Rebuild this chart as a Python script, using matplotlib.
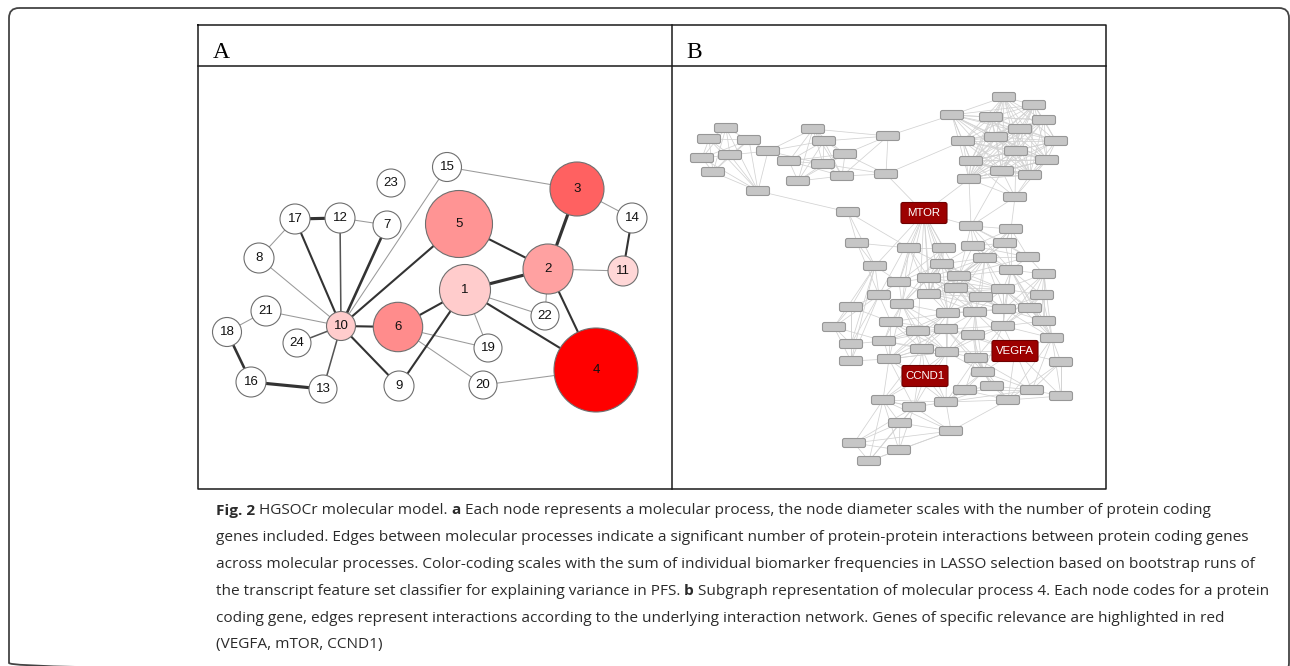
import itertools
import matplotlib
matplotlib.use("Agg")
import matplotlib.pyplot as plt
from matplotlib.patches import Circle, FancyBboxPatch
from matplotlib.colors import LinearSegmentedColormap

W, H = 1290, 666

# ---------------- panel A: molecular processes ----------------
proc_ids = list(range(1, 25))
proc_x = [267, 350, 379, 398, 261, 200, 189, 61, 201, 143, 425, 142,
          125, 434, 249, 53, 97, 29, 290, 285, 68, 347, 193, 99]
proc_y = [224, 203, 123, 304, 158, 261, 159, 192, 320, 260, 205, 152,
          323, 152, 101, 316, 153, 266, 282, 319, 245, 250, 117, 277]
# radius ~ number of protein coding genes
proc_r = [25.5, 25, 27, 42, 33.5, 24.7, 14, 15, 15, 14.5, 15, 15,
          14, 15, 14.5, 15, 15, 14.5, 14, 14, 15, 14, 14, 14]
# summed biomarker frequency (colour)
proc_freq = [0.20, 0.37, 0.62, 1.00, 0.42, 0.45, 0, 0, 0, 0.20, 0.16, 0,
             0, 0, 0, 0, 0, 0, 0, 0, 0, 0, 0, 0]
# (from, to, weight)
proc_edges = [(15, 3, 1), (15, 10, 1), (17, 12, 3), (12, 7, 1), (17, 8, 1),
              (17, 10, 2), (12, 10, 1.5), (7, 10, 2.5), (5, 10, 2), (8, 10, 1),
              (21, 10, 1), (24, 10, 1.5), (13, 10, 1.5), (10, 6, 2), (10, 9, 2),
              (21, 18, 1), (18, 16, 2.5), (16, 13, 3), (6, 1, 2), (6, 19, 1),
              (6, 20, 1), (9, 1, 2), (1, 2, 3), (1, 22, 1), (1, 19, 1),
              (1, 4, 2), (5, 2, 2), (2, 3, 3), (2, 11, 1), (2, 22, 1),
              (2, 4, 2), (3, 14, 1), (14, 11, 2), (20, 4, 1)]

# ---------------- panel B: subgraph of process 4 ----------------
gene_x = [54, 37, 77, 30, 58, 96, 41, 86, 141, 152, 117, 151, 173, 126, 170, 216, 214,
          332, 362, 280, 319, 372, 348, 324, 291, 384, 344, 299, 375, 330, 358, 297, 343,
          176, 252, 299, 339, 185, 237, 272, 301, 333, 203, 270, 313, 356, 339, 372,
          227, 257, 287, 284, 331, 207, 257, 309, 370, 179, 230, 276, 303, 332, 358,
          162, 219, 246, 274, 301, 331, 372, 179, 212, 250, 275, 380, 343, 179, 217,
          304, 389, 253, 311, 293, 320, 360, 389, 211, 242, 274, 336, 228, 279, 182,
          227, 197]
gene_y = [62, 73, 74, 92, 89, 85, 106, 125, 63, 75, 95, 98, 88, 115, 110, 70, 108,
          31, 39, 49, 51, 54, 63, 71, 75, 75, 85, 95, 94, 105, 109, 113, 131,
          146, 147, 160, 163, 177, 182, 182, 180, 177, 200, 198, 192, 191, 204, 208,
          216, 212, 210, 222, 223, 229, 228, 231, 229, 241, 238, 247, 246, 243, 242,
          261, 256, 265, 263, 269, 260, 255, 278, 275, 283, 286, 272, 285, 295, 293,
          292, 296, 310, 306, 324, 320, 324, 330, 334, 341, 336, 334, 357, 365, 377,
          384, 395]
gene_names = {34: "MTOR", 75: "VEGFA", 80: "CCND1"}

# densely connected groups of genes
gene_groups = [
    [0, 1, 2, 3, 4, 6],
    [8, 9, 10, 11, 12, 13, 14],
    list(range(17, 32)),
    [26, 27, 28, 29, 30, 31, 32],
    [42, 53, 57, 63, 70, 76],
    [38, 39, 43, 48, 49, 54, 58],
    [35, 36, 40, 41, 44, 45, 46, 50],
    [43, 44, 49, 50, 51, 52, 54, 55, 59, 60, 61],
    [46, 47, 52, 56, 61, 62, 68, 69, 74],
    [58, 59, 64, 65, 66, 71, 72, 73, 77],
    [60, 66, 67, 68, 73, 75, 78, 81],
    [72, 73, 77, 80, 86, 87, 88],
    [78, 81, 82, 83, 88, 89, 84],
    [74, 79, 84, 85, 89, 75],
    [86, 87, 90, 91, 92, 93, 94],
]
gene_edges = [(7, 0), (7, 1), (7, 2), (7, 3), (7, 4), (7, 5), (7, 6), (7, 33),
              (5, 2), (5, 4), (5, 8), (5, 9), (5, 10), (5, 11),
              (15, 8), (15, 9), (15, 12), (15, 14), (15, 19),
              (16, 11), (16, 12), (16, 14), (16, 15), (16, 24), (16, 34),
              (31, 34), (31, 35), (32, 35), (32, 36), (29, 35),
              (34, 38), (34, 39), (34, 42), (34, 43), (34, 48), (34, 49), (34, 53),
              (34, 54), (34, 58), (34, 59), (34, 65), (34, 50), (34, 51), (34, 35),
              (33, 37), (33, 42), (33, 38), (37, 42), (37, 53), (37, 38),
              (53, 64), (57, 64), (63, 71), (70, 71), (76, 77), (48, 53), (42, 48),
              (89, 91), (88, 91), (85, 79), (47, 45), (36, 41), (40, 43)]
for grp in gene_groups:
    gene_edges += list(itertools.combinations(grp, 2))

caption_lines = [
    [("Fig. 2", True), (" HGSOCr molecular model.", False), (" a", True),
     (" Each node represents a molecular process, the node diameter scales with the number of protein coding", False)],
    [("genes included. Edges between molecular processes indicate a significant number of protein-protein interactions between protein coding genes", False)],
    [("across molecular processes. Color-coding scales with the sum of individual biomarker frequencies in LASSO selection based on bootstrap runs of", False)],
    [("the transcript feature set classifier for explaining variance in PFS.", False), (" b", True),
     (" Subgraph representation of molecular process 4. Each node codes for a protein", False)],
    [("coding gene, edges represent interactions according to the underlying interaction network. Genes of specific relevance are highlighted in red", False)],
    [("(VEGFA, mTOR, CCND1)", False)],
]

# ---------------- figure ----------------
fig = plt.figure(figsize=(W / 100, H / 100), dpi=100)
bg = fig.add_axes([0, 0, 1, 1])
bg.set_xlim(0, W)
bg.set_ylim(H, 0)
bg.axis("off")

# outer rounded frame (bottom runs off the page)
bg.add_patch(FancyBboxPatch((9, 8), 1280, 665,
                            boxstyle="round,pad=0,rounding_size=10",
                            fc="none", ec="#444444", lw=1.3))
# table grid
lc = "#1a1a1a"
bg.plot([198, 1106, 1106, 198, 198], [25, 25, 489, 489, 25], color=lc, lw=1.1)
bg.plot([198, 1106], [66, 66], color=lc, lw=1.1)
bg.plot([672, 672], [25, 489], color=lc, lw=1.1)
bg.text(213, 57.5, "A", fontsize=17, family="Liberation Serif", va="baseline")
bg.text(686, 57.5, "B", fontsize=17, family="Liberation Serif", va="baseline")

# panel A
ax_a = fig.add_axes([198 / W, 1 - 489 / H, 474 / W, 423 / H])
ax_a.set_xlim(0, 474)
ax_a.set_ylim(423, 0)
ax_a.axis("off")
cmap = LinearSegmentedColormap.from_list("wr", ["#ffffff", "#ff0000"])
idx = {p: i for i, p in enumerate(proc_ids)}
for a, b, w in proc_edges:
    i, j = idx[a], idx[b]
    col = "#9a9a9a" if w < 1.5 else ("#555555" if w < 2 else "#333333")
    ax_a.plot([proc_x[i], proc_x[j]], [proc_y[i], proc_y[j]],
              color=col, lw=0.75 * w, zorder=1, solid_capstyle="butt")
for i, p in enumerate(proc_ids):
    ax_a.add_patch(Circle((proc_x[i], proc_y[i]), proc_r[i],
                          fc=cmap(proc_freq[i]), ec="#6f6f6f", lw=0.8, zorder=2))
    ax_a.text(proc_x[i], proc_y[i], str(p), ha="center", va="center",
              fontsize=9.5, family="Liberation Sans", color="#111111", zorder=3)

# panel B
ax_b = fig.add_axes([672 / W, 1 - 489 / H, 434 / W, 423 / H])
ax_b.set_xlim(0, 434)
ax_b.set_ylim(423, 0)
ax_b.axis("off")
for a, b in gene_edges:
    ax_b.plot([gene_x[a], gene_x[b]], [gene_y[a], gene_y[b]],
              color="#d2d2d2", lw=0.55, zorder=1)
for i in range(len(gene_x)):
    if i in gene_names:
        w, h, fc, ec = 46, 21, "#9c0000", "#6e0000"
    else:
        w, h, fc, ec = 23, 9, "#c6c6c6", "#979797"
    ax_b.add_patch(FancyBboxPatch((gene_x[i] - w / 2, gene_y[i] - h / 2), w, h,
                                  boxstyle="round,pad=0,rounding_size=2",
                                  fc=fc, ec=ec, lw=0.8, zorder=2))
    if i in gene_names:
        ax_b.text(gene_x[i], gene_y[i], gene_names[i], ha="center", va="center",
                  fontsize=8.2, family="Liberation Sans", color="white", zorder=3)

# caption, sized so the widest line spans the text block
renderer = fig.canvas.get_renderer()
cap_kw = dict(family="Open Sans", color="#2b2b2b", va="baseline", ha="left")


def line_width(line, size):
    tot = 0
    for txt, bold in line:
        t = bg.text(0, 0, txt, fontsize=size,
                    fontweight="bold" if bold else "normal", **cap_kw)
        tot += t.get_window_extent(renderer).width
        t.remove()
    return tot


widest = max(line_width(line, 12) for line in caption_lines)
cap_size = 12 * 1044 / widest

y = 514.5
for line in caption_lines:
    x = 216
    for txt, bold in line:
        t = bg.text(x, y, txt, fontsize=cap_size,
                    fontweight="bold" if bold else "normal", **cap_kw)
        x += t.get_window_extent(renderer).width
    y += 26.8

fig.savefig("out.png", dpi=100)
